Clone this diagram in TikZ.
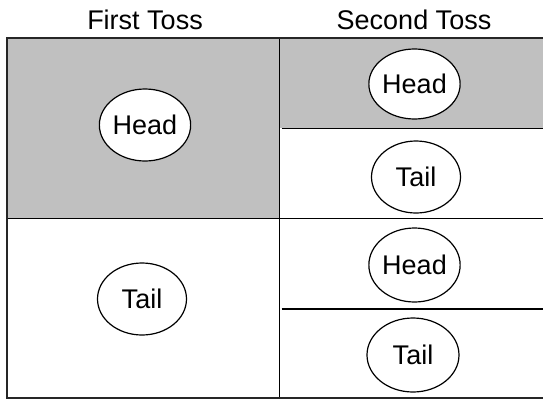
\documentclass[tikz,border=0pt]{standalone}
\usepackage{fontspec}
\setmainfont{Liberation Sans}
\usetikzlibrary{shapes.geometric}
\definecolor{cellgray}{RGB}{192,192,192}
\tikzset{
  outcome/.style={ellipse, draw=black, line width=1.2pt, fill=white,
    minimum width=89pt, minimum height=72pt, inner sep=0pt, font=\fontsize{27}{31}\selectfont},
  header/.style={font=\fontsize{27}{31}\selectfont, inner sep=0pt},
  grid/.style={draw=black, line width=1.4pt},
  frame/.style={draw=black!85, line width=1.8pt}
}
\begin{document}
\begin{tikzpicture}[x=1pt, y=-1pt]
  \useasboundingbox (0,0) rectangle (543,399);
  % shaded cells: first toss head, second toss head
  \fill[cellgray] (7,37.7) rectangle (279.7,218.3);
  \fill[cellgray] (279.7,37.7) rectangle (543,128.3);
  % column headings
  \node[header] (h1) at (145,20) {First Toss};
  \node[header] (h2) at (414,20) {Second Toss};
  % inner grid lines
  \draw[grid] (279.7,37.7) -- (279.7,398);
  \draw[grid] (7,218.3) -- (543,218.3);
  \draw[grid] (281.7,128.3) -- (543,128.3);
  \draw[grid] (281.7,309) -- (543,309);
  % outer frame
  \draw[frame] (543,37.7) -- (7,37.7) -- (7,398) -- (543,398);
  % outcomes
  \node[outcome] (first-head) at (145,125) {Head};
  \node[outcome] (first-tail) at (142,299) {Tail};
  \node[outcome, minimum height=70pt] (hh) at (414.5,84) {Head};
  \node[outcome] (ht) at (416,177) {Tail};
  \node[outcome, minimum height=74pt] (th) at (414.5,265) {Head};
  \node[outcome, minimum width=92pt, minimum height=74pt] (tt) at (413,355) {Tail};
\end{tikzpicture}
\end{document}
